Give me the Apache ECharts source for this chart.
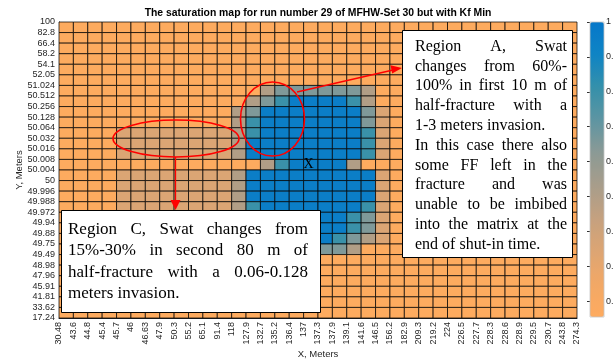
<!DOCTYPE html>
<html>
<head>
<meta charset="utf-8">
<script src="https://cdn.jsdelivr.net/npm/echarts@6/dist/echarts.min.js"></script>
<style>
html, body { margin: 0; padding: 0; background: #fff; }
#chart { width: 613px; height: 360px; }
</style>
</head>
<body>
<div id="chart"></div>
<script>
// Grid-line positions along the fracture (X) and across it (Y), metres
const xTicks = ['30.48','43.6','44.8','45.4','45.7','46','46.63','47.9','50.3','55.2','65.1','91.4','118','127.9','132.7','135.2','136.4','137','137.3','137.9','139.1','141.6','146.5','156.2','182.9','209.3','219.2','224','226.5','227.7','228.3','228.6','228.9','229.5','230.7','243.8','274.3'];
const yTicks = ['17.24','33.62','41.81','45.91','47.96','48.98','49.49','49.75','49.88','49.94','49.972','49.988','49.996','50','50.004','50.008','50.016','50.032','50.064','50.128','50.256','50.512','51.024','52.05','54.1','58.2','66.4','82.8','100'];

// Water saturation per cell, rows listed from the top (Y = 100) down to the bottom (Y = 17.24)
const swat = [
  [0.16,0.16,0.16,0.16,0.16,0.16,0.16,0.16,0.16,0.16,0.16,0.16,0.16,0.16,0.16,0.16,0.16,0.16,0.16,0.16,0.16,0.16,0.16,0.16,0.16,0.16,0.16,0.16,0.16,0.16,0.16,0.16,0.16,0.16,0.16,0.16],
  [0.16,0.16,0.16,0.16,0.16,0.16,0.16,0.16,0.16,0.16,0.16,0.16,0.16,0.16,0.16,0.16,0.16,0.16,0.16,0.16,0.16,0.16,0.16,0.16,0.16,0.16,0.16,0.16,0.16,0.16,0.16,0.16,0.16,0.16,0.16,0.16],
  [0.16,0.16,0.16,0.16,0.16,0.16,0.16,0.16,0.16,0.16,0.16,0.16,0.16,0.16,0.16,0.16,0.16,0.16,0.16,0.16,0.16,0.16,0.16,0.16,0.16,0.16,0.16,0.16,0.16,0.16,0.16,0.16,0.16,0.16,0.16,0.16],
  [0.16,0.16,0.16,0.16,0.16,0.16,0.16,0.16,0.16,0.16,0.16,0.16,0.16,0.16,0.16,0.16,0.16,0.16,0.16,0.16,0.16,0.16,0.16,0.16,0.16,0.16,0.16,0.16,0.16,0.16,0.16,0.16,0.16,0.16,0.16,0.16],
  [0.16,0.16,0.16,0.16,0.16,0.16,0.16,0.16,0.16,0.16,0.16,0.16,0.16,0.16,0.16,0.16,0.16,0.16,0.16,0.16,0.16,0.16,0.16,0.16,0.16,0.16,0.16,0.16,0.16,0.16,0.16,0.16,0.16,0.16,0.16,0.16],
  [0.16,0.16,0.16,0.16,0.16,0.16,0.16,0.16,0.16,0.16,0.16,0.16,0.16,0.16,0.16,0.16,0.16,0.16,0.16,0.16,0.16,0.16,0.16,0.16,0.16,0.16,0.16,0.16,0.16,0.16,0.16,0.16,0.16,0.16,0.16,0.16],
  [0.16,0.16,0.16,0.16,0.16,0.16,0.16,0.16,0.16,0.16,0.16,0.16,0.16,0.16,0.50,0.65,0.65,0.65,0.65,0.65,0.65,0.50,0.16,0.16,0.16,0.16,0.16,0.16,0.16,0.16,0.16,0.16,0.16,0.16,0.16,0.16],
  [0.16,0.16,0.16,0.16,0.16,0.16,0.16,0.16,0.16,0.16,0.16,0.16,0.16,0.50,0.65,0.80,0.95,0.95,0.95,0.95,0.80,0.50,0.16,0.16,0.16,0.16,0.16,0.16,0.16,0.16,0.16,0.16,0.16,0.16,0.16,0.16],
  [0.16,0.16,0.16,0.16,0.16,0.16,0.16,0.16,0.16,0.16,0.16,0.16,0.50,0.65,0.95,0.95,0.95,0.95,0.95,0.95,0.95,0.65,0.35,0.16,0.16,0.16,0.16,0.16,0.16,0.16,0.16,0.16,0.16,0.16,0.16,0.16],
  [0.16,0.16,0.16,0.16,0.16,0.16,0.16,0.16,0.16,0.16,0.16,0.16,0.50,0.80,0.95,0.95,0.95,0.95,0.95,0.95,0.95,0.65,0.35,0.16,0.16,0.16,0.16,0.16,0.16,0.16,0.16,0.16,0.16,0.16,0.16,0.16],
  [0.16,0.16,0.16,0.16,0.35,0.35,0.35,0.35,0.35,0.35,0.35,0.35,0.50,0.80,0.95,0.95,0.95,0.95,0.95,0.95,0.95,0.80,0.35,0.16,0.16,0.16,0.16,0.16,0.16,0.16,0.16,0.16,0.16,0.16,0.16,0.16],
  [0.16,0.16,0.16,0.16,0.35,0.35,0.35,0.35,0.35,0.35,0.35,0.35,0.50,0.95,0.95,0.95,0.95,0.95,0.95,0.95,0.95,0.80,0.35,0.16,0.16,0.16,0.16,0.16,0.16,0.16,0.16,0.16,0.16,0.16,0.16,0.16],
  [0.16,0.16,0.16,0.16,0.35,0.35,0.35,0.35,0.35,0.35,0.35,0.35,0.50,0.95,0.95,0.95,0.95,0.95,0.95,0.95,0.95,0.80,0.35,0.16,0.16,0.16,0.16,0.16,0.16,0.16,0.16,0.16,0.16,0.16,0.16,0.16],
  [0.16,0.16,0.16,0.16,0.16,0.16,0.16,0.16,0.16,0.16,0.16,0.16,0.16,0.16,0.50,0.80,0.95,0.95,0.95,0.95,0.50,0.16,0.16,0.16,0.16,0.16,0.16,0.16,0.16,0.16,0.16,0.16,0.16,0.16,0.16,0.16],
  [0.16,0.16,0.16,0.16,0.35,0.35,0.35,0.35,0.35,0.35,0.35,0.35,0.50,0.95,0.95,0.95,0.95,0.95,0.95,0.95,0.95,0.95,0.35,0.16,0.16,0.16,0.16,0.16,0.16,0.16,0.16,0.16,0.16,0.16,0.16,0.16],
  [0.16,0.16,0.16,0.16,0.35,0.35,0.35,0.35,0.35,0.35,0.35,0.35,0.50,0.95,0.95,0.95,0.95,0.95,0.95,0.95,0.95,0.95,0.35,0.16,0.16,0.16,0.16,0.16,0.16,0.16,0.16,0.16,0.16,0.16,0.16,0.16],
  [0.16,0.16,0.16,0.16,0.35,0.35,0.35,0.35,0.35,0.35,0.35,0.35,0.50,0.95,0.95,0.95,0.95,0.95,0.95,0.95,0.95,0.95,0.35,0.16,0.16,0.16,0.16,0.16,0.16,0.16,0.16,0.16,0.16,0.16,0.16,0.16],
  [0.16,0.16,0.16,0.16,0.35,0.35,0.35,0.35,0.35,0.35,0.35,0.35,0.50,0.80,0.95,0.95,0.95,0.95,0.95,0.95,0.95,0.80,0.35,0.16,0.16,0.16,0.16,0.16,0.16,0.16,0.16,0.16,0.16,0.16,0.16,0.16],
  [0.16,0.16,0.16,0.16,0.35,0.35,0.35,0.35,0.35,0.35,0.35,0.35,0.50,0.80,0.95,0.95,0.95,0.95,0.95,0.95,0.80,0.65,0.35,0.16,0.16,0.16,0.16,0.16,0.16,0.16,0.16,0.16,0.16,0.16,0.16,0.16],
  [0.16,0.16,0.16,0.16,0.35,0.35,0.35,0.35,0.35,0.35,0.35,0.35,0.50,0.80,0.95,0.95,0.95,0.95,0.95,0.95,0.80,0.65,0.35,0.16,0.16,0.16,0.16,0.16,0.16,0.16,0.16,0.16,0.16,0.16,0.16,0.16],
  [0.16,0.16,0.16,0.16,0.35,0.35,0.35,0.35,0.35,0.35,0.35,0.35,0.50,0.65,0.80,0.95,0.95,0.95,0.95,0.80,0.65,0.50,0.35,0.16,0.16,0.16,0.16,0.16,0.16,0.16,0.16,0.16,0.16,0.16,0.16,0.16],
  [0.16,0.16,0.16,0.16,0.16,0.16,0.16,0.16,0.16,0.16,0.16,0.16,0.16,0.16,0.50,0.65,0.65,0.65,0.65,0.65,0.50,0.16,0.16,0.16,0.16,0.16,0.16,0.16,0.16,0.16,0.16,0.16,0.16,0.16,0.16,0.16],
  [0.16,0.16,0.16,0.16,0.16,0.16,0.16,0.16,0.16,0.16,0.16,0.16,0.16,0.16,0.16,0.16,0.16,0.16,0.16,0.16,0.16,0.16,0.16,0.16,0.16,0.16,0.16,0.16,0.16,0.16,0.16,0.16,0.16,0.16,0.16,0.16],
  [0.16,0.16,0.16,0.16,0.16,0.16,0.16,0.16,0.16,0.16,0.16,0.16,0.16,0.16,0.16,0.16,0.16,0.16,0.16,0.16,0.16,0.16,0.16,0.16,0.16,0.16,0.16,0.16,0.16,0.16,0.16,0.16,0.16,0.16,0.16,0.16],
  [0.16,0.16,0.16,0.16,0.16,0.16,0.16,0.16,0.16,0.16,0.16,0.16,0.16,0.16,0.16,0.16,0.16,0.16,0.16,0.16,0.16,0.16,0.16,0.16,0.16,0.16,0.16,0.16,0.16,0.16,0.16,0.16,0.16,0.16,0.16,0.16],
  [0.16,0.16,0.16,0.16,0.16,0.16,0.16,0.16,0.16,0.16,0.16,0.16,0.16,0.16,0.16,0.16,0.16,0.16,0.16,0.16,0.16,0.16,0.16,0.16,0.16,0.16,0.16,0.16,0.16,0.16,0.16,0.16,0.16,0.16,0.16,0.16],
  [0.16,0.16,0.16,0.16,0.16,0.16,0.16,0.16,0.16,0.16,0.16,0.16,0.16,0.16,0.16,0.16,0.16,0.16,0.16,0.16,0.16,0.16,0.16,0.16,0.16,0.16,0.16,0.16,0.16,0.16,0.16,0.16,0.16,0.16,0.16,0.16],
  [0.16,0.16,0.16,0.16,0.16,0.16,0.16,0.16,0.16,0.16,0.16,0.16,0.16,0.16,0.16,0.16,0.16,0.16,0.16,0.16,0.16,0.16,0.16,0.16,0.16,0.16,0.16,0.16,0.16,0.16,0.16,0.16,0.16,0.16,0.16,0.16]
];

// Colour bar range and tick labels
const cbMin = 0.155;
const cbMax = 1;
const cbTicks = [0.2, 0.3, 0.4, 0.5, 0.6, 0.7, 0.8, 0.9, 1];
const cbTickLabels = ['0.2', '0.3', '0.4', '0.5', '0.6', '0.7', '0.8', '0.9', '1'];
const cbColors = ['#FEAB5F','#F2A866','#DDA573','#C5A17F','#A89D8A','#8C9A95','#5E95A2','#3590AA','#0F84C4','#0678CA'];

const titleText = 'The saturation map for run number 29 of MFHW-Set 30 but with Kf Min';

// Annotation text, one entry per printed line
const noteA = [
  ['Region A, Swat', true],
  ['changes from 60%-', true],
  ['100% in first 10 m of', true],
  ['half-fracture with a', true],
  ['1-3 meters invasion.', false],
  ['In this case there also', true],
  ['some FF left in the', true],
  ['fracture and was', true],
  ['unable to be imbibed', true],
  ['into the matrix at the', true],
  ['end of shut-in time.', false]
];
const noteC = [
  ['Region C, Swat changes from', true],
  ['15%-30% in second 80 m of', true],
  ['half-fracture with a 0.06-0.128', true],
  ['meters invasion.', false]
];

const nRows = swat.length;
const cells = [];
swat.forEach((row, r) => row.forEach((v, c) => cells.push([c, nRows - 1 - r, v])));

const chart = echarts.init(document.getElementById('chart'), null, { renderer: 'canvas' });

// Word-by-word layout so that each flagged line fills the full text width
const measureCtx = document.createElement('canvas').getContext('2d');
function paragraph(lines, x0, width, y0, lh, font) {
  measureCtx.font = font;
  const out = [];
  lines.forEach(([text, justify], i) => {
    const y = y0 + i * lh;
    const words = text.split(' ');
    if (!justify || words.length < 2) {
      out.push({ type: 'text', z: 110, x: x0, y: y, style: { text: text, font: font, fill: '#000', verticalAlign: 'middle' } });
      return;
    }
    const widths = words.map(w => measureCtx.measureText(w).width);
    const gap = (width - widths.reduce((a, b) => a + b, 0)) / (words.length - 1);
    let x = x0;
    words.forEach((w, k) => {
      out.push({ type: 'text', z: 110, x: x, y: y, style: { text: w, font: font, fill: '#000', verticalAlign: 'middle' } });
      x += widths[k] + gap;
    });
  });
  return out;
}

const red = '#FF0000';
const graphics = [
  { type: 'text', z: 110, x: 318, y: 13, style: { text: titleText, font: 'bold 10.4px "Liberation Sans", Arial, sans-serif', fill: '#000', align: 'center', verticalAlign: 'middle' } },
  // colour bar frame
  { type: 'rect', z: 110, shape: { x: 590, y: 22, width: 14, height: 295 }, style: { fill: 'none', stroke: '#c4c4c4', lineWidth: 0.8 } },
  // well marker
  { type: 'text', z: 105, x: 308.5, y: 164, style: { text: 'X', font: '14px "Liberation Serif", serif', fill: '#000', align: 'center', verticalAlign: 'middle' } },
  // region A highlight and pointer
  { type: 'ellipse', z: 106, shape: { cx: 272.5, cy: 119, rx: 32, ry: 37 }, style: { fill: 'none', stroke: red, lineWidth: 1.6 } },
  { type: 'line', z: 106, shape: { x1: 297, y1: 92, x2: 393, y2: 70 }, style: { stroke: red, lineWidth: 1.3 } },
  { type: 'polygon', z: 106, shape: { points: [[402, 68], [390.5, 65.2], [392.2, 73.6]] }, style: { fill: red } },
  // region C highlight and pointer
  { type: 'ellipse', z: 106, shape: { cx: 176, cy: 138.5, rx: 63, ry: 18.5 }, style: { fill: 'none', stroke: red, lineWidth: 1.6 } },
  { type: 'line', z: 106, shape: { x1: 175.5, y1: 157, x2: 175.5, y2: 201 }, style: { stroke: red, lineWidth: 1.3 } },
  { type: 'polygon', z: 106, shape: { points: [[175.5, 210], [170.5, 200], [180.5, 200]] }, style: { fill: red } },
  // note boxes
  { type: 'rect', z: 108, shape: { x: 402.5, y: 30.5, width: 170, height: 227 }, style: { fill: '#fff', stroke: '#000', lineWidth: 1 } },
  { type: 'rect', z: 108, shape: { x: 61.5, y: 210.5, width: 259, height: 102 }, style: { fill: '#fff', stroke: '#000', lineWidth: 1 } }
]
  .concat(paragraph(noteA, 415, 152, 46.5, 19.8, '16px "Liberation Serif", serif'))
  .concat(paragraph(noteC, 68, 240, 229.5, 21.3, '17px "Liberation Serif", serif'));

const axisFont = { fontFamily: '"Liberation Sans", Arial, sans-serif', fontSize: 9, color: '#262626' };

chart.setOption({
  animation: false,
  backgroundColor: '#fff',
  grid: [
    { left: 59, top: 22, width: 518, height: 296, outerBoundsMode: 'none' },
    { left: 590, top: 22, width: 14, height: 295, outerBoundsMode: 'none' }
  ],
  xAxis: [
    {
      gridIndex: 0, type: 'value', min: 0, max: xTicks.length - 1, interval: 1,
      name: 'X, Meters', nameLocation: 'middle', nameGap: 31, nameMoveOverlap: false,
      nameTextStyle: { fontFamily: axisFont.fontFamily, fontSize: 9.5, color: '#262626' },
      axisLine: { show: true, lineStyle: { color: '#262626', width: 1 } },
      axisTick: { show: false },
      splitLine: { show: false },
      axisLabel: Object.assign({ rotate: 90, margin: 4, formatter: v => xTicks[v] }, axisFont)
    },
    { gridIndex: 1, type: 'value', show: false, min: 0, max: 1 }
  ],
  yAxis: [
    {
      gridIndex: 0, type: 'value', min: 0, max: yTicks.length - 1, interval: 1,
      name: 'Y, Meters', nameLocation: 'middle', nameGap: 35, nameMoveOverlap: false,
      nameTextStyle: { fontFamily: axisFont.fontFamily, fontSize: 9.5, color: '#262626' },
      axisLine: { show: true, lineStyle: { color: '#262626', width: 1 } },
      axisTick: { show: false },
      splitLine: { show: false },
      axisLabel: Object.assign({ margin: 4, formatter: v => yTicks[v] }, axisFont)
    },
    {
      gridIndex: 1, type: 'value', min: cbMin, max: cbMax, position: 'right',
      axisLine: { show: false },
      splitLine: { show: false },
      axisTick: { show: true, inside: true, length: 3, customValues: cbTicks, lineStyle: { color: '#333', width: 1 } },
      axisLabel: { show: false }
    }
  ],
  visualMap: {
    type: 'continuous', seriesIndex: 0, dimension: 2,
    min: cbMin, max: cbMax, calculable: false, realtime: false,
    orient: 'vertical', left: 590, top: 22, itemWidth: 14, itemHeight: 295,
    padding: 0, showLabel: false, text: null,
    inRange: { color: cbColors },
    textStyle: { color: 'transparent' }
  },
  series: [{
    type: 'custom',
    xAxisIndex: 0, yAxisIndex: 0,
    data: cells,
    encode: { x: 0, y: 1 },
    renderItem: function (params, api) {
      const c = api.value(0), r = api.value(1);
      const p0 = api.coord([c, r + 1]);
      const p1 = api.coord([c + 1, r]);
      return {
        type: 'rect',
        shape: { x: p0[0], y: p0[1], width: p1[0] - p0[0], height: p1[1] - p0[1] },
        style: { fill: api.visual('color'), stroke: 'rgba(0,0,0,0.72)', lineWidth: 1 }
      };
    }
  }],
  graphic: graphics
});

// Colour bar tick labels, placed through the colour bar's own value axis
const cbLabels = cbTicks.map((v, i) => {
  const y = chart.convertToPixel({ yAxisIndex: 1 }, v);
  return { type: 'text', z: 110, x: 606, y: y, style: { text: cbTickLabels[i], font: '9px "Liberation Sans", Arial, sans-serif', fill: '#262626', verticalAlign: 'middle' } };
});
chart.setOption({ graphic: graphics.concat(cbLabels) });
</script>
</body>
</html>
